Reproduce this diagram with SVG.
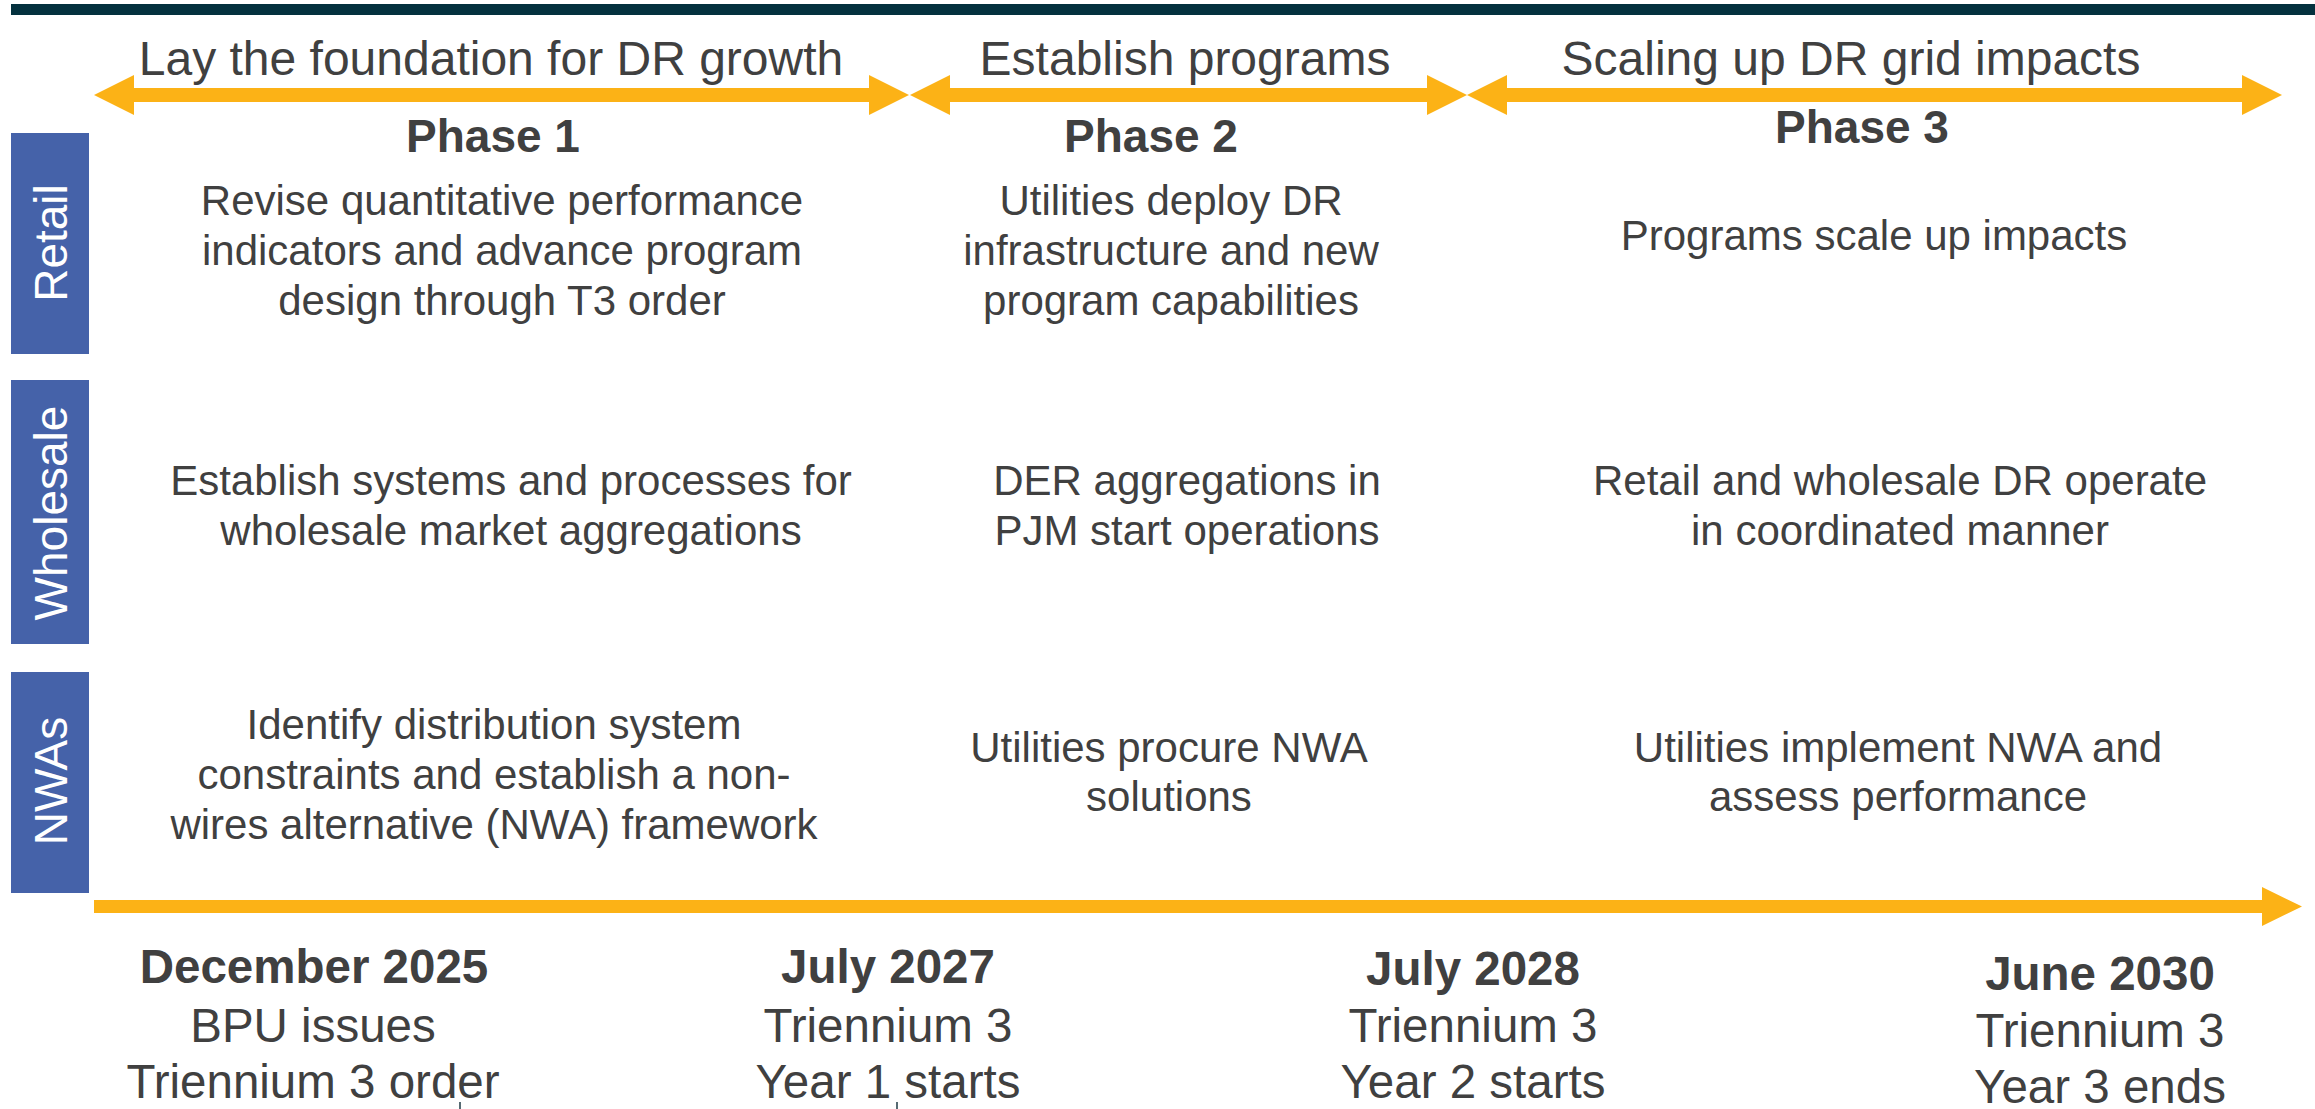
<svg xmlns="http://www.w3.org/2000/svg" width="2315" height="1109" viewBox="0 0 2315 1109">
<style>
text{font-family:"Liberation Sans",Arial,sans-serif;fill:#404040;text-anchor:middle}
.hdr{font-size:48px}
.ph{font-size:46px;font-weight:bold}
.body{font-size:42px}
.date{font-size:47.5px;font-weight:bold}
.sub{font-size:47.5px}
.lane{font-size:46px;fill:#ffffff}
.lanebox{fill:#4562A9}
.arr{fill:#FCB216}
.tick{stroke:#1F3A44;stroke-width:1.5}
</style>
<rect id="topbar" x="11" y="4" width="2304" height="11" fill="#04313E"/>
<g id="connectors">
<polygon class="arr" points="94,95 134,75 134,88 869,88 869,75 909,95 869,115 869,102 134,102 134,115"/>
<polygon class="arr" points="910,95 950,75 950,88 1427,88 1427,75 1467,95 1427,115 1427,102 950,102 950,115"/>
<polygon class="arr" points="1467,95 1507,75 1507,88 2242,88 2242,75 2282,95 2242,115 2242,102 1507,102 1507,115"/>
<polygon class="arr" points="94,900 2262,900 2262,887 2302,906.5 2262,926 2262,913 94,913"/>
</g>
<g id="phase1">
<text class="hdr" x="491" y="75">Lay the foundation for DR growth</text>
<text class="ph" x="493" y="152">Phase 1</text>
</g>
<g id="phase2">
<text class="hdr" x="1185" y="75">Establish programs</text>
<text class="ph" x="1151" y="152">Phase 2</text>
</g>
<g id="phase3">
<text class="hdr" x="1851" y="75">Scaling up DR grid impacts</text>
<text class="ph" x="1862" y="143">Phase 3</text>
</g>
<g id="lane-retail">
<rect class="lanebox" x="11" y="133" width="78" height="221"/>
<text class="lane" transform="translate(67,243) rotate(-90)">Retail</text>
</g>
<g id="lane-wholesale">
<rect class="lanebox" x="11" y="380" width="78" height="264"/>
<text class="lane" transform="translate(67,513) rotate(-90)">Wholesale</text>
</g>
<g id="lane-nwas">
<rect class="lanebox" x="11" y="672" width="78" height="221"/>
<text class="lane" transform="translate(67,781) rotate(-90)">NWAs</text>
</g>
<g id="retail-p1">
<text class="body" x="502" y="215">Revise quantitative performance</text>
<text class="body" x="502" y="265">indicators and advance program</text>
<text class="body" x="502" y="315">design through T3 order</text>
</g>
<g id="retail-p2">
<text class="body" x="1171" y="215">Utilities deploy DR</text>
<text class="body" x="1171" y="265">infrastructure and new</text>
<text class="body" x="1171" y="315">program capabilities</text>
</g>
<g id="retail-p3">
<text class="body" x="1874" y="250">Programs scale up impacts</text>
</g>
<g id="wholesale-p1">
<text class="body" x="511" y="495">Establish systems and processes for</text>
<text class="body" x="511" y="545">wholesale market aggregations</text>
</g>
<g id="wholesale-p2">
<text class="body" x="1187" y="495">DER aggregations in</text>
<text class="body" x="1187" y="545">PJM start operations</text>
</g>
<g id="wholesale-p3">
<text class="body" x="1900" y="495">Retail and wholesale DR operate</text>
<text class="body" x="1900" y="545">in coordinated manner</text>
</g>
<g id="nwa-p1">
<text class="body" x="494" y="739">Identify distribution system</text>
<text class="body" x="494" y="789">constraints and establish a non-</text>
<text class="body" x="494" y="839">wires alternative (NWA) framework</text>
</g>
<g id="nwa-p2">
<text class="body" x="1169" y="762">Utilities procure NWA</text>
<text class="body" x="1169" y="811">solutions</text>
</g>
<g id="nwa-p3">
<text class="body" x="1898" y="762">Utilities implement NWA and</text>
<text class="body" x="1898" y="811">assess performance</text>
</g>
<g id="date-dec2025">
<text class="date" x="314" y="983">December 2025</text>
<text class="sub" x="313" y="1042">BPU issues</text>
<text class="sub" x="313" y="1098">Triennium 3 order</text>
</g>
<g id="date-jul2027">
<text class="date" x="888" y="983">July 2027</text>
<text class="sub" x="888" y="1042">Triennium 3</text>
<text class="sub" x="888" y="1098">Year 1 starts</text>
</g>
<g id="date-jul2028">
<text class="date" x="1473" y="985">July 2028</text>
<text class="sub" x="1473" y="1042">Triennium 3</text>
<text class="sub" x="1473" y="1098">Year 2 starts</text>
</g>
<g id="date-jun2030">
<text class="date" x="2100" y="990">June 2030</text>
<text class="sub" x="2100" y="1047">Triennium 3</text>
<text class="sub" x="2100" y="1103">Year 3 ends</text>
</g>
<g id="ticks">
<line class="tick" x1="460" y1="1102" x2="460" y2="1109"/>
<line class="tick" x1="897" y1="1102" x2="897" y2="1109"/>
</g>
</svg>
